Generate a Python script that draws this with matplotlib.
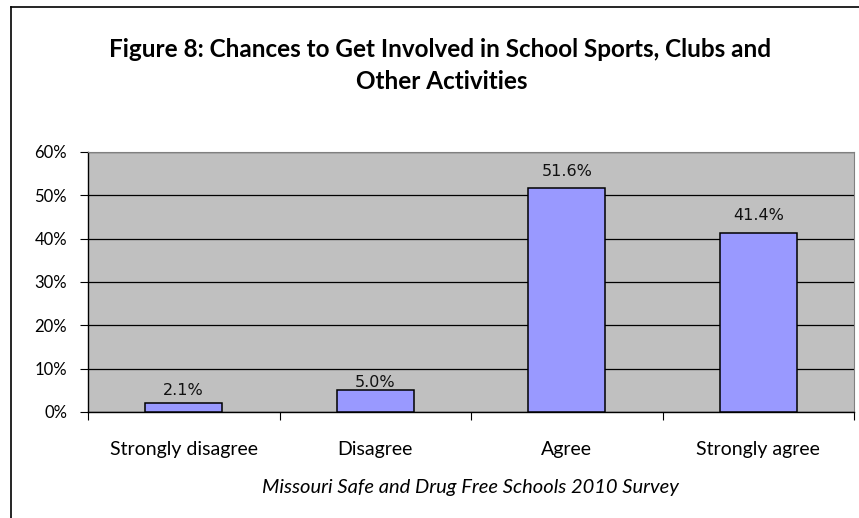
import matplotlib.pyplot as plt
from matplotlib.lines import Line2D

# Data
categories = ['Strongly disagree', 'Disagree', 'Agree', 'Strongly agree']
percents = [2.1, 5.0, 51.6, 41.4]
# vertical offset of each value label above its bar (points)
label_offsets = [3.5, 0, 7, 7]

W, H = 859, 518
fig = plt.figure(figsize=(W / 100, H / 100), dpi=100)

# plot area in pixel coords
left, right, top, bottom = 88, 854, 152, 412
ax = fig.add_axes([left / W, 1 - bottom / H, (right - left) / W, (bottom - top) / H])
ax.set_facecolor('#C0C0C0')

x = range(len(categories))
bars = ax.bar(x, percents, width=0.4, color='#9999FF', edgecolor='black',
              linewidth=1.1, zorder=3)

for xi, v, off in zip(x, percents, label_offsets):
    ax.annotate(f'{v:.1f}%', (xi, v), xytext=(0, off), textcoords='offset points',
                ha='center', va='bottom', fontsize=11.5, family='DejaVu Sans',
                color='#111111', zorder=4)

ax.set_xlim(-0.5, 3.5)
ax.set_ylim(0, 60)
ax.set_yticks(range(0, 61, 10))
ax.set_yticklabels([f'{t}%' for t in range(0, 61, 10)], fontsize=12, family='Lato')
ax.yaxis.grid(True, color='black', linewidth=0.9, zorder=1)
ax.tick_params(axis='y', length=6, width=0.8, pad=9, colors='black')

ax.set_xticks(list(x))
ax.set_xticklabels(categories, fontsize=14, family='Lato')
ax.set_xticks([i - 0.5 for i in range(len(categories) + 1)], minor=True)
ax.tick_params(axis='x', which='major', length=0, pad=21)
ax.tick_params(axis='x', which='minor', length=6, width=0.8, direction='out')

for s in ['top', 'right']:
    ax.spines[s].set_color('#808080')
for s in ['left', 'bottom']:
    ax.spines[s].set_color('black')
    ax.spines[s].set_linewidth(1.0)

# title and caption
fig.text(440 / W, 1 - 57 / H, 'Figure 8: Chances to Get Involved in School Sports, Clubs and',
         ha='center', va='baseline', fontsize=17.5, fontweight='bold', family='Lato')
fig.text(442 / W, 1 - 89 / H, 'Other Activities',
         ha='center', va='baseline', fontsize=17.5, fontweight='bold', family='Lato')
fig.text(470 / W, 1 - 488 / H, 'Missouri Safe and Drug Free Schools 2010 Survey',
         ha='center', va='center', fontsize=14.5, style='italic', family='Lato')

# chart border
fig.add_artist(Line2D([11 / W, 11 / W], [0, 1 - 7 / H], color='black', linewidth=1.2))
fig.add_artist(Line2D([11 / W, 1], [1 - 7 / H, 1 - 7 / H], color='black', linewidth=1.2))

plt.savefig('out.png', dpi=100)
